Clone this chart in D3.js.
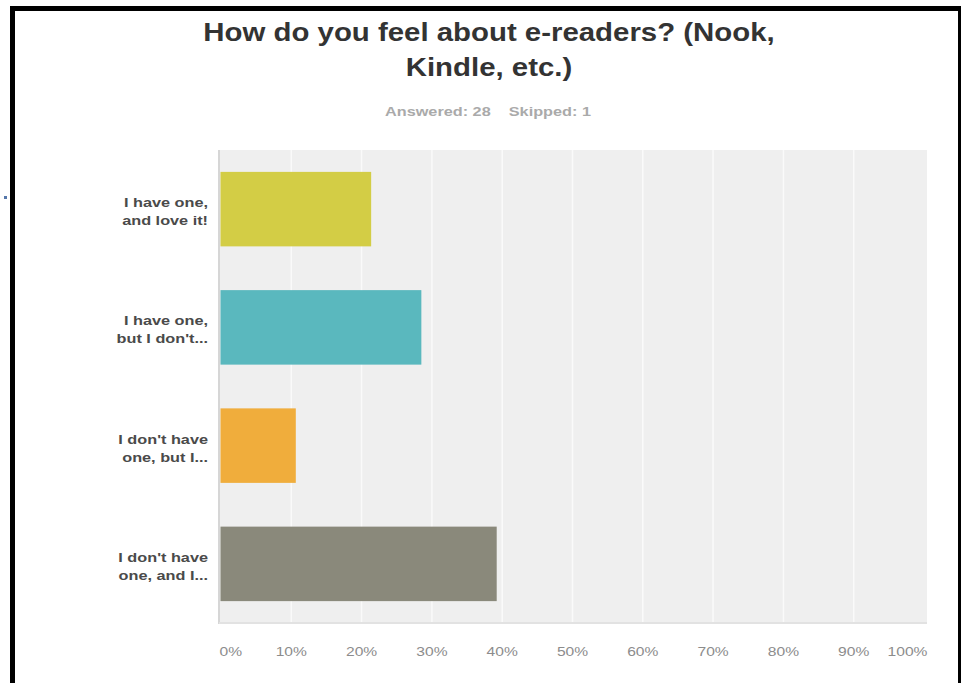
<!DOCTYPE html>
<html>
<head>
<meta charset="utf-8">
<script src="https://cdn.jsdelivr.net/npm/d3@7"></script>
<style>
  body { margin: 0; background: #fff; }
  svg { display: block; font-family: "Liberation Sans", Arial, sans-serif; }
</style>
</head>
<body>
<svg id="chart" width="961" height="683"></svg>
<script>
// ************************************
// Data
// ************************************
const titleLines = ["How do you feel about e-readers? (Nook,", "Kindle, etc.)"];
const subtitle = "Answered: 28    Skipped: 1";

const categories = [
  ["I have one,", "and love it!"],
  ["I have one,", "but I don't..."],
  ["I don't have", "one, but I..."],
  ["I don't have", "one, and I..."]
];
const values = [21.43, 28.57, 10.71, 39.29];   // percent of respondents
const colors = ["#d3cd45", "#5ab8be", "#f0ad3c", "#8a897b"];
const ticks = [0, 10, 20, 30, 40, 50, 60, 70, 80, 90, 100];

// ************************************
// Layout
// ************************************
const svg = d3.select("#chart");
const W = 961, H = 683;
const plot = { left: 219, right: 927, top: 150, bottom: 623 };

// the screenshot's text is a bit wider than Liberation Sans, stretch it
function widen(sel, k) {
  sel.each(function() {
    const len = this.getComputedTextLength();
    d3.select(this).attr("textLength", len * k).attr("lengthAdjust", "spacingAndGlyphs");
  });
}

// frame round the screenshot
svg.append("rect").attr("x", 10).attr("y", 6).attr("width", 5).attr("height", H - 6).attr("fill", "#000");
svg.append("rect").attr("x", 10).attr("y", 6).attr("width", W - 10).attr("height", 5).attr("fill", "#000");
svg.append("rect").attr("x", 958).attr("y", 6).attr("width", 3).attr("height", H - 6).attr("fill", "#000");
svg.append("rect").attr("x", 4).attr("y", 196).attr("width", 3).attr("height", 3).attr("fill", "#5577aa");

// title
svg.selectAll(".title")
  .data(titleLines)
  .enter().append("text")
    .attr("class", "title")
    .attr("x", 489).attr("y", (d, i) => 41 + i * 35)
    .attr("text-anchor", "middle")
    .attr("font-size", 26).attr("font-weight", "bold").attr("fill", "#333")
    .text(d => d)
    .call(widen, 1.13);

svg.append("text")
    .attr("x", 488).attr("y", 116)
    .attr("text-anchor", "middle")
    .attr("font-size", 12.5).attr("font-weight", "bold").attr("fill", "#aaa")
    .attr("xml:space", "preserve")
    .text(subtitle)
    .call(widen, 1.3);

// scales
const x = d3.scaleLinear().domain([0, 100]).range([220.5, 923.5]);
const y = d3.scaleBand().domain(d3.range(categories.length))
    .range([plot.top, plot.bottom]).paddingInner(0.37).paddingOuter(0.185);

const g = svg.append("g");

// plot background
g.append("rect")
    .attr("x", plot.left).attr("y", plot.top)
    .attr("width", plot.right - plot.left).attr("height", plot.bottom - plot.top)
    .attr("fill", "#efefef");

// gridlines
g.append("g")
    .attr("transform", `translate(0,${plot.bottom})`)
    .call(d3.axisBottom(x).tickValues(ticks.slice(1, -1)).tickSize(-(plot.bottom - plot.top)).tickFormat(""))
    .call(a => a.select(".domain").remove())
    .call(a => a.selectAll("line").attr("stroke", "#fafafa").attr("stroke-width", 1.5));

// axis lines
g.append("line").attr("x1", plot.left).attr("x2", plot.left)
    .attr("y1", plot.top).attr("y2", plot.bottom + 1)
    .attr("stroke", "#d6d6d6").attr("stroke-width", 2);
g.append("line").attr("x1", plot.left).attr("x2", plot.right)
    .attr("y1", plot.bottom).attr("y2", plot.bottom)
    .attr("stroke", "#e2e2e2").attr("stroke-width", 2);

// bars
g.selectAll(".bar")
  .data(values)
  .enter().append("rect")
    .attr("class", "bar")
    .attr("x", x(0))
    .attr("y", (d, i) => y(i))
    .attr("width", d => x(d) - x(0))
    .attr("height", y.bandwidth())
    .attr("fill", (d, i) => colors[i]);

// category labels, two lines each
categories.forEach((lines, i) => {
  g.selectAll(null)
    .data(lines)
    .enter().append("text")
      .attr("class", "cat")
      .attr("x", 208)
      .attr("y", (d, j) => y(i) + y.bandwidth() / 2 - 2 + j * 18)
      .attr("text-anchor", "end")
      .attr("font-size", 13).attr("font-weight", "bold").attr("fill", "#4a4a4a")
      .text(d => d)
      .call(widen, 1.25);
});

// x axis tick labels
g.append("g")
    .attr("transform", `translate(0,${plot.bottom})`)
    .call(d3.axisBottom(x).tickValues(ticks).tickSize(0).tickPadding(24).tickFormat(d => d + "%"))
    .call(a => a.select(".domain").remove())
    .call(a => a.selectAll("text")
        .attr("font-family", "Liberation Sans, Arial, sans-serif")
        .attr("font-size", 12).attr("fill", "#8c8c8c")
        .attr("text-anchor", d => d === 0 ? "start" : d === 100 ? "end" : "middle")
        .attr("dx", d => d === 0 ? -1.5 : d === 100 ? 3.5 : 0)
        .call(widen, 1.3));
</script>
</body>
</html>
